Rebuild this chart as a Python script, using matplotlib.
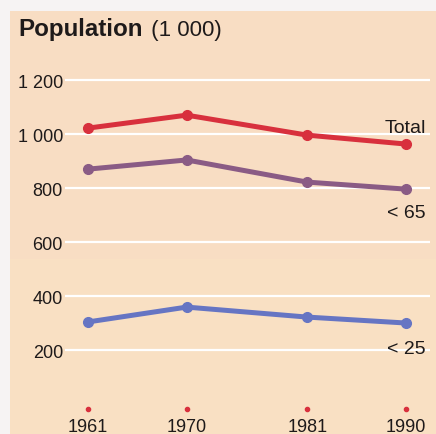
import matplotlib
matplotlib.use("Agg")
from matplotlib import pyplot as plt
from matplotlib.patches import Rectangle
import matplotlib.transforms as mtransforms

plt.rcParams['font.family'] = ['Liberation Sans', 'DejaVu Sans']

years = [1961, 1970, 1981, 1990]
year_labels = ["1961", "1970", "1981", "1990"]
total = [1022, 1070, 996, 963]
under65 = [870, 904, 822, 796]
under25 = [304, 359, 322, 300]
yticks = [200, 400, 600, 800, 1000, 1200]
ytick_labels = ["200", "400", "600", "800", "1 000", "1 200"]
series = [("Total", total, "#d8303d"),
          ("< 65", under65, "#8a5b85"),
          ("< 25", under25, "#6675c3")]

W, H = 436, 435
fig = plt.figure(figsize=(W / 100, H / 100), dpi=100)
fig.patch.set_facecolor("#f6f3f3")

# peach panel (drawn under the axes)
fig.patches.append(Rectangle((10 / W, 0), 1 - 10 / W, (H - 12) / H,
                             transform=fig.transFigure, facecolor="#f8ddc3",
                             edgecolor="none", zorder=-2))
fig.patches.append(Rectangle((10 / W, 0), 1 - 10 / W, (H - 260) / H,
                             transform=fig.transFigure, facecolor="#fae2c3",
                             edgecolor="none", zorder=-1, alpha=0.7))

ax = fig.add_axes([65 / W, 20 / H, (430 - 65) / W, (415 - 60) / H])
ax.set_facecolor("none")
ax.set_xlim(1958.9, 1992.2)
ax.set_ylim(-37, 1278)
for s in ax.spines.values():
    s.set_visible(False)

ax.set_yticks(yticks)
ax.set_yticklabels(ytick_labels)
ax.yaxis.grid(True, color="white", linewidth=1.6)
ax.set_axisbelow(True)
ax.tick_params(axis="y", length=0, pad=1.5, labelsize=13, labelcolor="#1e1a1a")
ax.set_xticks(years)
ax.set_xticklabels(year_labels)
ax.tick_params(axis="x", length=0, pad=3, labelsize=13, labelcolor="#1e1a1a")

# small red year markers
trans = mtransforms.blended_transform_factory(ax.transData, ax.transAxes)
ax.scatter(years, [0.013] * len(years), transform=trans, s=9, color="#d8303d",
           zorder=3, clip_on=False)

for name, vals, col in series:
    ax.plot(years, vals, color=col, linewidth=3.6, marker="o", markersize=7,
            solid_capstyle="round", zorder=4, clip_on=False)

# series labels
ax.text(1991.8, total[-1] + 62, "Total", ha="right", va="center", fontsize=14,
        color="#1e1a1a")
ax.text(1991.8, under65[-1] - 88, "< 65", ha="right", va="center", fontsize=14,
        color="#1e1a1a")
ax.text(1991.8, under25[-1] - 93, "< 25", ha="right", va="center", fontsize=14,
        color="#1e1a1a")

t = fig.text(18 / W, 1 - 36 / H, "Population", fontsize=17.4, fontweight="bold",
             color="#1e1a1a", va="baseline")
ax.annotate(" (1 000)", xy=(1, 0), xycoords=t, xytext=(2, 0),
            textcoords="offset points", va="bottom", fontsize=16,
            color="#1e1a1a", annotation_clip=False)

fig.savefig("out.png", dpi=100)
